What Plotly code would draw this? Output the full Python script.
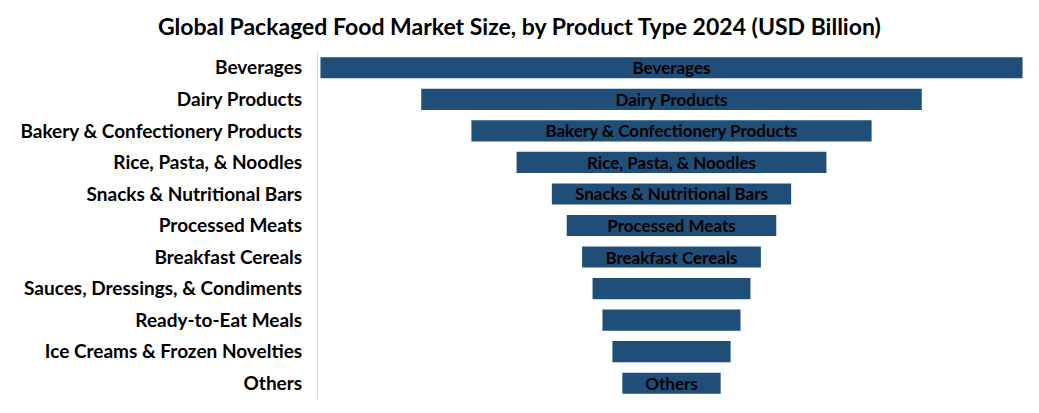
import plotly.graph_objects as go

categories = [
    "Beverages",
    "Dairy Products",
    "Bakery & Confectionery Products",
    "Rice, Pasta, & Noodles",
    "Snacks & Nutritional Bars",
    "Processed Meats",
    "Breakfast Cereals",
    "Sauces, Dressings, & Condiments",
    "Ready-to-Eat Meals",
    "Ice Creams & Frozen Novelties",
    "Others",
]
values = [707, 504, 403, 312, 241, 211, 180, 159, 139, 119, 99]
bar_text = [
    "Beverages",
    "Dairy Products",
    "Bakery & Confectionery Products",
    "Rice, Pasta, & Noodles",
    "Snacks & Nutritional Bars",
    "Processed Meats",
    "Breakfast Cereals",
    "",
    "",
    "",
    "Others",
]

FONT = "Lato"

fig = go.Figure(
    go.Funnel(
        y=categories,
        x=values,
        text=bar_text,
        textinfo="text",
        textposition="inside",
        constraintext="none",
        insidetextfont=dict(family=FONT, size=17, color="black", weight="bold"),
        marker=dict(color="#1F4E79", line=dict(width=0)),
        connector=dict(visible=False),
        hoverinfo="y+x",
    )
)

half = values[0] / 2 * 1.007
fig.update_layout(
    width=1031,
    height=405,
    margin=dict(l=306, r=14, t=44, b=14),
    paper_bgcolor="white",
    plot_bgcolor="white",
    funnelgap=0.33,
    title=dict(
        text="<b>Global Packaged Food Market Size, by Product Type 2024 (USD Billion)</b>",
        x=0.496,
        xref="container",
        xanchor="center",
        y=0.953,
        yref="container",
        yanchor="middle",
        font=dict(family=FONT, size=23, color="black"),
    ),
    showlegend=False,
)
fig.update_xaxes(visible=False, range=[-half, half])
fig.update_yaxes(
    showline=True,
    linecolor="#D9D9D9",
    linewidth=1,
    showgrid=False,
    ticks="",
    ticklabelstandoff=11,
    tickfont=dict(family=FONT, size=19, color="black", weight="bold"),
)

fig.write_html("out.html")
